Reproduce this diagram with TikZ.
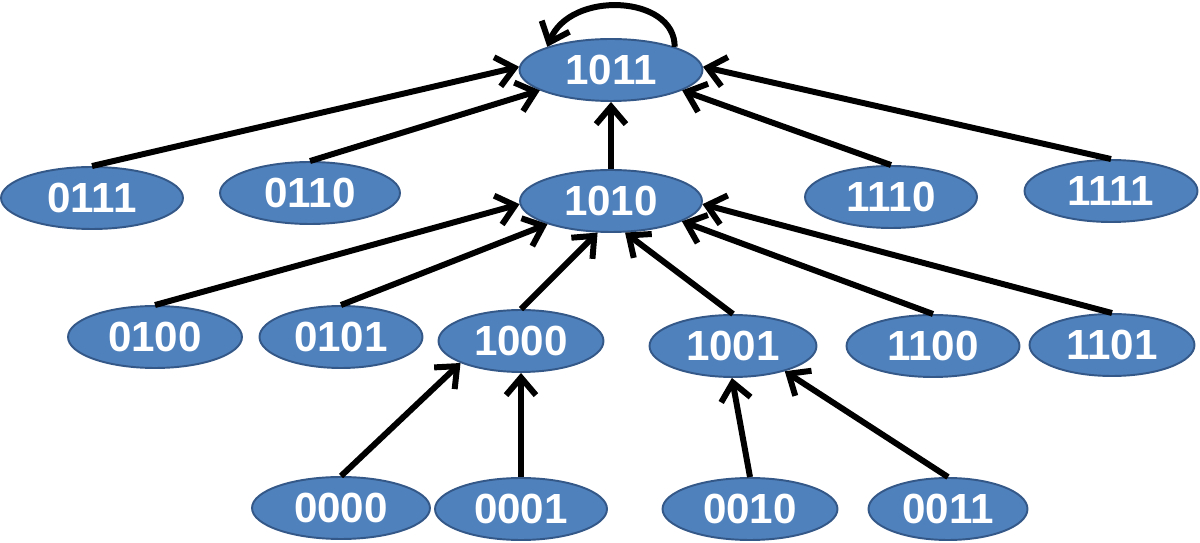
\documentclass[tikz,border=0pt]{standalone}
\usepackage{fontspec}
\setmainfont{Liberation Sans}
\usetikzlibrary{shapes.geometric,arrows.meta}
\definecolor{nodefill}{RGB}{79,129,189}
\definecolor{nodeline}{RGB}{52,88,135}
\begin{document}
\begin{tikzpicture}[x=0.02cm,y=-0.02cm,
  state/.style={ellipse, draw=nodeline, line width=1.1pt, fill=nodefill, text=white,
    font=\fontsize{24}{28}\selectfont\bfseries, inner sep=0pt, minimum height=1.24cm},
  edge/.style={line width=3.4pt, -{Straight Barb[length=10pt,width=17pt]}}]
\useasboundingbox (0,0) rectangle (1200,543);
% row 1
\node[state, minimum width=3.66cm] (n1011) at (611,70) {1011};
% row 2
\node[state, minimum width=3.64cm] (n0111) at (92,198) {0111};
\node[state, minimum width=3.60cm] (n0110) at (310,193) {0110};
\node[state, minimum width=3.64cm] (n1010) at (611,201) {1010};
\node[state, minimum width=3.44cm] (n1110) at (891,197) {1110};
\node[state, minimum width=3.46cm] (n1111) at (1111,191) {1111};
% row 3
\node[state, minimum width=3.48cm] (n0100) at (155,337) {0100};
\node[state, minimum width=3.26cm] (n0101) at (341,337) {0101};
\node[state, minimum width=3.30cm] (n1000) at (521,341) {1000};
\node[state, minimum width=3.34cm] (n1001) at (733,346) {1001};
\node[state, minimum width=3.46cm] (n1100) at (933,346) {1100};
\node[state, minimum width=3.30cm] (n1101) at (1112,345) {1101};
% row 4
\node[state, minimum width=3.56cm] (n0000) at (341,508) {0000};
\node[state, minimum width=3.44cm] (n0001) at (521,509) {0001};
\node[state, minimum width=3.50cm] (n0010) at (750,509) {0010};
\node[state, minimum width=3.18cm] (n0011) at (948,509) {0011};
% edges to 1011
\draw[edge] (n0111.north) -- (n1011.178);
\draw[edge] (n0110.north) -- (n1011.196);
\draw[edge] (n1010.north) -- (n1011.south);
\draw[edge] (n1110.north) -- (n1011.344);
\draw[edge] (n1111.north) -- (n1011.2);
\draw[edge] (n1011.20) .. controls (675,-5) and (570,-10) .. (n1011.160);
% edges to 1010
\draw[edge] (n0100.north) -- (n1010.182);
\draw[edge] (n0101.north) -- (n1010.200);
\draw[edge] (n1000.north) -- (n1010.247);
\draw[edge] (n1001.north) -- (n1010.294);
\draw[edge] (n1100.north) -- (n1010.344);
\draw[edge] (n1101.north) -- (n1010.358);
% edges to 1000 / 1001
\draw[edge] (n0000.north) -- (n1000.200);
\draw[edge] (n0001.north) -- (n1000.south);
\draw[edge] (n0010.north) -- (n1001.268);
\draw[edge] (n0011.north) -- (n1001.334);
\end{tikzpicture}
\end{document}
